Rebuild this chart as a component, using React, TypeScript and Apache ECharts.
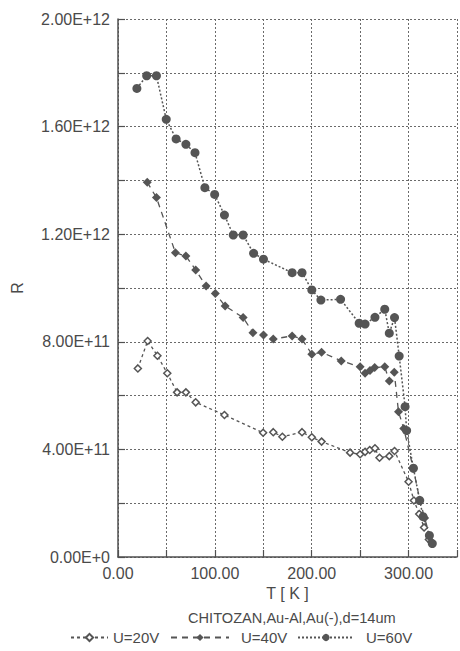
import React, { useEffect, useRef } from "react";
import * as echarts from "echarts";

// Temperatures (K) and resistances (in units of 1e11)
const t20 = [20.5, 30.6, 40.7, 50.9, 61, 70.1, 80.2, 109.9, 149.8, 160.3, 169.7, 190, 200.1, 210.2, 239.6, 250, 255.1, 259.9, 265.3, 270, 280.1, 285.5, 300, 305.5, 311, 316, 321];
const r20 = [7.01, 8.03, 7.48, 6.83, 6.12, 6.12, 5.75, 5.28, 4.62, 4.64, 4.47, 4.64, 4.45, 4.29, 3.88, 3.82, 3.91, 3.98, 4.04, 3.69, 3.75, 3.94, 2.8, 2.1, 1.6, 1.1, 0.65];

const t40 = [30.2, 39.7, 59.3, 70.1, 80.2, 91, 100.5, 110.6, 129.2, 139.3, 150.2, 160.3, 179.8, 190, 200.1, 210.2, 230.5, 250, 255.1, 260.2, 265, 275.4, 280.1, 285.2, 289.6, 295, 304.8, 311.6, 316.6, 323.4];
const r40 = [13.93, 13.36, 11.31, 11.19, 10.67, 10.07, 9.8, 9.33, 8.9, 8.34, 8.25, 8.1, 8.22, 8.1, 7.54, 7.61, 7.29, 7.07, 6.83, 6.93, 7.04, 7.07, 6.54, 6.87, 5.4, 4.78, 3.3, 2.12, 1.45, 0.57];

const t60 = [19.5, 29.6, 39.7, 49.8, 60, 70.1, 79.5, 89.7, 99.8, 109.9, 119, 129.2, 140, 150.2, 179.8, 190, 200.1, 209.5, 229.8, 249, 255.1, 265.3, 275.4, 280.1, 285.5, 290.3, 296.4, 298, 305, 311.5, 315, 321.5, 324.5];
const r60 = [17.42, 17.89, 17.89, 16.27, 15.54, 15.34, 15.03, 13.73, 13.48, 12.71, 11.97, 11.97, 11.29, 11.07, 10.57, 10.57, 9.93, 9.55, 9.58, 8.69, 8.66, 8.91, 9.21, 8.32, 8.9, 7.47, 5.59, 4.7, 3.3, 2.1, 1.5, 0.8, 0.5];

const UNIT = 1e11;
const seriesNames = ["U=20V", "U=40V", "U=60V"];
const subtitle = "CHITOZAN,Au-Al,Au(-),d=14um";
const xName = "T [ K ]";
const yName = "R";

const zip = (t: number[], r: number[]) => t.map((v, i) => [v, r[i] * UNIT]);

const sci = (v: number) => {
  if (v === 0) return "0.00E+0";
  const e = Math.floor(Math.log10(v) + 1e-9);
  const m = v / Math.pow(10, e);
  return `${m.toFixed(2)}E+${e}`;
};

const FONT = "Liberation Sans, Arial, sans-serif";
const TXT = "#4a4a4a";
const AX = "#505050";

export default function App() {
  const ref = useRef<HTMLDivElement>(null);
  useEffect(() => {
    const chart = echarts.init(ref.current!, null, { renderer: "svg" });
    const legendCommon = {
      top: 630,
      padding: 0,
      itemHeight: 9,
      textStyle: { fontSize: 15, color: TXT, fontFamily: FONT },
      selectedMode: false,
    };
    chart.setOption({
      animation: false,
      backgroundColor: "#ffffff",
      textStyle: { fontFamily: FONT },
      title: {
        text: subtitle,
        left: 188,
        top: 610,
        padding: 0,
        textStyle: { fontSize: 14.6, fontWeight: "normal", color: TXT, fontFamily: FONT },
      },
      legend: [
        { ...legendCommon, data: [seriesNames[0]], left: 70, itemWidth: 37 },
        { ...legendCommon, data: [seriesNames[1]], left: 170, itemWidth: 58, textStyle: { ...legendCommon.textStyle, padding: [0, 0, 0, 7] } },
        { ...legendCommon, data: [seriesNames[2]], left: 297, itemWidth: 56, textStyle: { ...legendCommon.textStyle, padding: [0, 0, 0, 7] } },
      ],
      grid: { left: 118, right: -3.5, top: 19, bottom: 94 },
      xAxis: {
        type: "value",
        min: 0,
        max: 350,
        interval: 50,
        name: xName,
        nameLocation: "middle",
        nameGap: 27,
        nameTextStyle: { fontSize: 16, color: TXT, fontFamily: FONT },
        axisLine: { lineStyle: { color: AX, width: 1.5 } },
        axisTick: { inside: true, length: 7, lineStyle: { color: AX, width: 1.2 } },
        axisLabel: {
          fontSize: 16,
          color: TXT,
          margin: 8,
          formatter: (v: number) => (Math.round(v) % 100 === 0 && v <= 300 ? v.toFixed(2) : ""),
        },
        splitLine: { show: true, lineStyle: { type: [2, 2], color: "#6a6a6a", width: 1 } },
      },
      yAxis: {
        type: "value",
        min: 0,
        max: 2e12,
        interval: 2e11,
        name: yName,
        nameLocation: "middle",
        nameGap: 93,
        nameTextStyle: { fontSize: 16, color: TXT, fontFamily: FONT },
        axisLine: { show: true, lineStyle: { color: AX, width: 1.5 } },
        axisTick: { show: true, inside: true, length: 7, lineStyle: { color: AX, width: 1.2 } },
        axisLabel: {
          fontSize: 16,
          color: TXT,
          margin: 8,
          formatter: (v: number) => (Math.round(v / 2e11) % 2 === 1 ? "" : sci(v)),
        },
        splitLine: { show: true, lineStyle: { type: [2, 2], color: "#6a6a6a", width: 1 } },
      },
      series: [
        {
          type: "line",
          name: seriesNames[0],
          data: zip(t20, r20),
          symbol: "diamond",
          symbolSize: 7,
          itemStyle: { color: "#ffffff", borderColor: "#555", borderWidth: 1.5 },
          lineStyle: { color: "#555", width: 1.3, type: [3, 3] },
        },
        {
          type: "line",
          name: seriesNames[1],
          data: zip(t40, r40),
          symbol: "diamond",
          symbolSize: 9,
          itemStyle: { color: "#555" },
          lineStyle: { color: "#555", width: 1.3, type: [6, 5] },
        },
        {
          type: "line",
          name: seriesNames[2],
          data: zip(t60, r60),
          symbol: "circle",
          symbolSize: 9,
          itemStyle: { color: "#555" },
          lineStyle: { color: "#555", width: 1.5, type: [2, 2] },
        },
      ],
    });
    return () => chart.dispose();
  }, []);
  return (
    <div
      ref={ref}
      style={{ position: "absolute", left: 0, top: 0, width: 460, height: 651, background: "#fff" }}
    />
  );
}
